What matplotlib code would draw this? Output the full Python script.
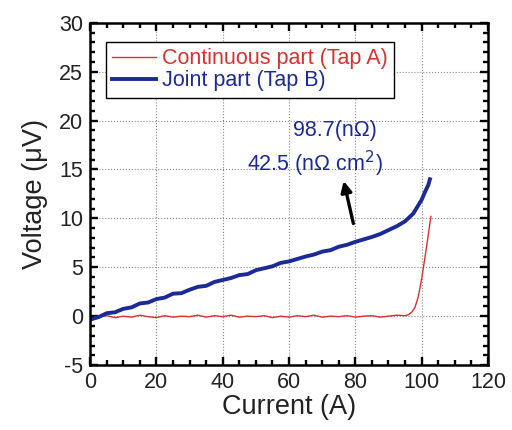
import matplotlib
matplotlib.use("Agg")
import matplotlib.pyplot as plt
from matplotlib.ticker import MultipleLocator

plt.rcParams["font.family"] = ["Liberation Sans", "DejaVu Sans"]
plt.rcParams["axes.unicode_minus"] = False

# Joint part (Tap B)
joint_current = [0, 2.5, 5, 7.5, 10, 12.5, 15, 17.5, 20, 22.5, 25, 27.5, 30, 32.5,
                 35, 37.5, 40, 42.5, 45, 47.5, 50, 52.5, 55, 57.5, 60, 62.5, 65,
                 67.5, 70, 72.5, 75, 77.5, 80, 82.5, 85, 87.5, 90, 92.5, 95, 97.5,
                 100, 101, 102, 102.5]
joint_voltage = [-0.35, -0.1, 0.3, 0.4, 0.75, 0.9, 1.3, 1.4, 1.75, 1.9, 2.3, 2.35,
                 2.7, 3.0, 3.1, 3.5, 3.7, 3.9, 4.2, 4.3, 4.7, 4.9, 5.1, 5.45, 5.6,
                 5.85, 6.1, 6.3, 6.6, 6.75, 7.1, 7.3, 7.6, 7.85, 8.1, 8.4, 8.8, 9.2,
                 9.7, 10.5, 11.9, 12.7, 13.4, 14.0]

# Continuous part (Tap A)
cont_current = [2.5, 5, 7.5, 10, 12.5, 15, 17.5, 20, 22.5, 25, 27.5, 30, 32.5, 35,
                37.5, 40, 42.5, 45, 47.5, 50, 52.5, 55, 57.5, 60, 62.5, 65, 67.5,
                70, 72.5, 75, 77.5, 80, 82.5, 85, 87.5, 90, 92.5, 95, 96, 97, 98,
                99, 100, 101, 102, 102.8]
cont_voltage = [-0.1, 0.05, -0.15, 0.0, -0.1, 0.1, -0.05, -0.15, 0.05, -0.1, 0.0,
                -0.05, 0.1, -0.1, 0.05, -0.05, 0.1, -0.1, 0.0, -0.05, 0.05, -0.15,
                0.0, -0.1, 0.05, -0.05, 0.1, -0.1, 0.0, -0.05, 0.05, -0.1, 0.0,
                0.05, -0.1, 0.0, 0.1, 0.05, 0.15, 0.4, 0.9, 2.0, 3.8, 6.0, 8.3, 10.2]

RED = "#d8322e"
BLUE = "#1c2a98"
TXT = "#222222"

fig = plt.figure(figsize=(5.12, 4.30), dpi=100)
ax = fig.add_axes([0.176, 0.151, 0.777, 0.796])

ax.plot(cont_current, cont_voltage, color=RED, lw=1.0, label="Continuous part (Tap A)")
ax.plot(joint_current, joint_voltage, color=BLUE, lw=2.8, label="Joint part (Tap B)")

ax.set_xlim(0, 120)
ax.set_ylim(-5, 30)
ax.xaxis.set_major_locator(MultipleLocator(20))
ax.xaxis.set_minor_locator(MultipleLocator(5))
ax.yaxis.set_major_locator(MultipleLocator(5))
ax.yaxis.set_minor_locator(MultipleLocator(1))
ax.grid(True, which="major", ls=":", lw=0.8, color="#888888")
ax.tick_params(which="both", direction="in", top=True, right=True, width=1.7,
               labelsize=15.5, colors="black", labelcolor=TXT)
ax.tick_params(which="major", length=6)
ax.tick_params(which="minor", length=3.5)
ax.tick_params(axis="x", pad=5)
ax.tick_params(axis="y", pad=5)
for s in ax.spines.values():
    s.set_linewidth(1.8)

ax.set_xlabel("Current (A)", fontsize=19.5, color=TXT, labelpad=1)
ax.set_ylabel("Voltage (μV)", fontsize=19.5, color=TXT, labelpad=8)

leg = ax.legend(loc="upper left", bbox_to_anchor=(0.04, 0.945), borderaxespad=0,
                fontsize=15.5, fancybox=False, framealpha=1, edgecolor="black",
                handlelength=2.0, handletextpad=0.3, borderpad=0.3,
                labelspacing=0.05)
leg.get_frame().set_linewidth(1.0)
for txt, c in zip(leg.get_texts(), [RED, BLUE]):
    txt.set_color(c)

ax.text(61.2, 19.0, "98.7(nΩ)", color=BLUE, fontsize=15.5, va="center", ha="left")
ax.text(47.3, 15.6, "42.5 (nΩ cm$^2$)", color=BLUE, fontsize=15.5, va="center", ha="left")
ax.annotate("", xy=(76.3, 14.1), xytext=(79.6, 9.2),
            arrowprops=dict(arrowstyle="-|>", color="black", lw=2.4, mutation_scale=16))

fig.savefig("out.png", dpi=100)
